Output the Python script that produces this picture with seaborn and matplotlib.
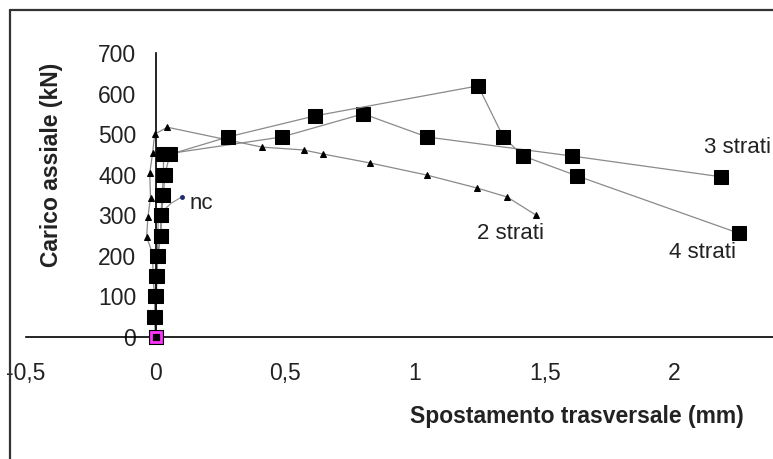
import matplotlib
matplotlib.use('Agg')
import matplotlib.pyplot as plt
import seaborn as sns
import pandas as pd
from matplotlib.ticker import FuncFormatter
from matplotlib.lines import Line2D

# ---------------- data ----------------
x_2strati = [0, -0.005, -0.01, -0.012, -0.035, -0.03, -0.02, -0.023, -0.012, -0.004,
             0.045, 0.41, 0.57, 0.645, 0.826, 1.046, 1.24, 1.355, 1.467]
y_2strati = [0, 100, 150, 205, 247, 296, 343, 404, 453, 500,
             517, 468, 461, 451, 429, 399, 367, 345, 300]

x_3strati = [0, -0.005, -0.003, 0.002, 0.005, 0.02, 0.02, 0.025, 0.03, 0.03,
             0.486, 0.80, 1.046, 1.606, 2.178]
y_3strati = [0, 50, 100, 150, 200, 250, 300, 350, 400, 450,
             493, 550, 493, 446, 395]

x_4strati = [0, -0.003, 0.0, 0.005, 0.008, 0.02, 0.022, 0.03, 0.035, 0.055,
             0.278, 0.614, 1.243, 1.34, 1.417, 1.625, 2.247]
y_4strati = [0, 50, 100, 150, 200, 250, 300, 350, 400, 450,
             493, 545, 619, 493, 446, 397, 256]

x_nc = [0, 0.005, 0.01, 0.06, 0.1]
y_nc = [0, 150, 300, 330, 345]

x_ticks = [-0.5, 0, 0.5, 1, 1.5, 2]
y_ticks = [0, 100, 200, 300, 400, 500, 600, 700]

labels = ["2 strati", "3 strati", "4 strati", "nc"]
label_x = [1.369, 2.112, 2.109, 0.131]
label_y = [256, 466, 209, 328]
label_ha = ["center", "left", "center", "left"]

# ---------------- style ----------------
sns.set_style('white')
plt.rcParams['font.family'] = ['Liberation Sans', 'DejaVu Sans']

W, H = 773, 459
fig = plt.figure(figsize=(W / 100, H / 100), dpi=100)
ax = fig.add_axes([26 / W, 1 - 337 / H, 747 / W, (337 - 53) / H])

line_col = '#8a8a8a'

df2 = pd.DataFrame({'x': x_2strati, 'y': y_2strati})
df3 = pd.DataFrame({'x': x_3strati, 'y': y_3strati})
df4 = pd.DataFrame({'x': x_4strati, 'y': y_4strati})
dfn = pd.DataFrame({'x': x_nc, 'y': y_nc})

sns.lineplot(data=df2, x='x', y='y', sort=False, estimator=None, ax=ax,
             color=line_col, linewidth=0.9, marker='^', markersize=4,
             markerfacecolor='black', markeredgecolor='black', clip_on=False)
sns.lineplot(data=dfn, x='x', y='y', sort=False, estimator=None, ax=ax,
             color=line_col, linewidth=0.8, clip_on=False)
ax.plot([x_nc[-1]], [y_nc[-1]], marker='o', markersize=2.5, color='#1f2a6b',
        linestyle='none')
sns.lineplot(data=df3, x='x', y='y', sort=False, estimator=None, ax=ax,
             color=line_col, linewidth=0.9, marker='s', markersize=10,
             markerfacecolor='black', markeredgecolor='black', clip_on=False)
sns.lineplot(data=df4, x='x', y='y', sort=False, estimator=None, ax=ax,
             color=line_col, linewidth=0.9, marker='s', markersize=10,
             markerfacecolor='black', markeredgecolor='black', clip_on=False)
# highlighted origin point
ax.plot([x_4strati[0]], [y_4strati[0]], marker='s', markersize=7,
        markerfacecolor='black', markeredgecolor='#ff33ff', markeredgewidth=2,
        linestyle='none', clip_on=False, zorder=5)

for t, xx, yy, ha in zip(labels, label_x, label_y, label_ha):
    ax.text(xx, yy, t, fontsize=16, ha=ha, va='center', color='#222222')

ax.set_xlim(-0.5, -0.5 + 747 / 259.4)
ax.set_ylim(0, 700)
ax.set_xticks(x_ticks)
ax.set_yticks(y_ticks)
fmt = lambda v, p: ('%g' % v).replace('.', ',')
ax.xaxis.set_major_formatter(FuncFormatter(fmt))
ax.yaxis.set_major_formatter(FuncFormatter(fmt))

ax.spines['top'].set_visible(False)
ax.spines['right'].set_visible(False)
ax.spines['left'].set_position(('data', 0))
for s in ('left', 'bottom'):
    ax.spines[s].set_color('black')
    ax.spines[s].set_linewidth(1.2)
ax.tick_params(axis='x', direction='out', length=8, width=1.2, pad=10,
               labelsize=16.5, colors='black', labelcolor='#222222')
ax.tick_params(axis='y', direction='inout', length=12, width=1.2, pad=8,
               labelsize=16.5, colors='black', labelcolor='#222222')
ax.set_xlabel('')
ax.set_ylabel('')
ax.grid(False)
ax.patch.set_alpha(0)

fig.text(577 / W, 1 - 417 / H, 'Spostamento trasversale (mm)', fontsize=16.5,
         fontweight='bold', ha='center', va='center', color='#222222')
fig.text(52 / W, 1 - 165 / H, 'Carico assiale (kN)', fontsize=16.5,
         fontweight='bold', ha='center', va='center', rotation=90,
         color='#222222')

# outer frame (top and left edges visible)
fig.add_artist(Line2D([10 / W, 1.0], [1 - 10 / H, 1 - 10 / H],
                      transform=fig.transFigure, color='#333333', linewidth=1.6))
fig.add_artist(Line2D([10 / W, 10 / W], [0, 1 - 10 / H],
                      transform=fig.transFigure, color='#333333', linewidth=1.6))

fig.savefig('out.png', dpi=100)
